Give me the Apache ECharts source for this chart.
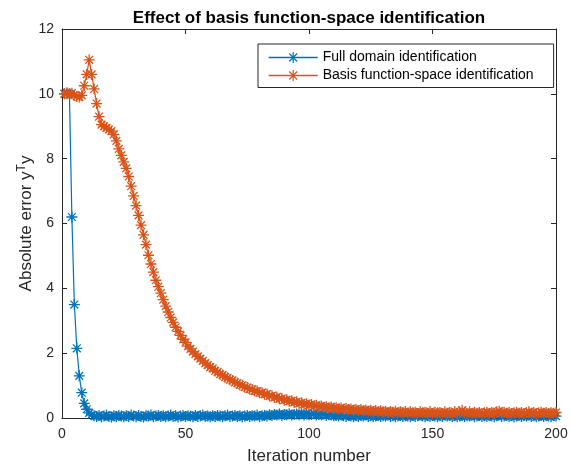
<!DOCTYPE html>
<html>
<head>
<meta charset="utf-8">
<script src="https://cdn.jsdelivr.net/npm/echarts@6/dist/echarts.min.js"></script>
<style>html,body{margin:0;padding:0;background:#fff}#c{width:572px;height:472px}</style>
</head>
<body>
<div id="c"></div>
<script>
var titleText = 'Effect of basis function-space identification';
var seriesNames = ['Full domain identification', 'Basis function-space identification'];
var xTicks = [0, 50, 100, 150, 200];
var yTicks = [0, 2, 4, 6, 8, 10, 12];

var fullDomain = [
10, 10, 10, 6.2, 3.5, 2.15, 1.3, 0.78, 0.45, 0.27,
0.16, 0.1, 0.07, 0.05, 0.08, 0.04, 0.06, 0.09, 0.05, 0.03,
0.07, 0.05, 0.08, 0.06, 0.04, 0.07, 0.05, 0.09, 0.06, 0.04,
0.08, 0.05, 0.03, 0.07, 0.06, 0.09, 0.04, 0.06, 0.08, 0.05,
0.07, 0.04, 0.06, 0.09, 0.05, 0.07, 0.03, 0.06, 0.08, 0.05,
0.07, 0.06, 0.04, 0.08, 0.05, 0.07, 0.09, 0.05, 0.06, 0.04,
0.07, 0.05, 0.08, 0.06, 0.04, 0.07, 0.09, 0.05, 0.06, 0.08,
0.05, 0.07, 0.04, 0.06, 0.08, 0.05, 0.07, 0.06, 0.09, 0.05,
0.07, 0.08, 0.06, 0.1, 0.08, 0.11, 0.09, 0.12, 0.08, 0.11,
0.1, 0.13, 0.09, 0.11, 0.12, 0.1, 0.13, 0.09, 0.12, 0.1,
0.11, 0.13, 0.09, 0.11, 0.1, 0.12, 0.08, 0.1, 0.09, 0.07,
0.08, 0.06, 0.09, 0.07, 0.05, 0.08, 0.06, 0.04, 0.07, 0.05,
0.08, 0.06, 0.09, 0.05, 0.07, 0.04, 0.06, 0.08, 0.05, 0.07,
0.06, 0.09, 0.05, 0.07, 0.04, 0.06, 0.08, 0.05, 0.07, 0.06,
0.04, 0.08, 0.05, 0.07, 0.09, 0.06, 0.04, 0.07, 0.05, 0.08,
0.06, 0.04, 0.07, 0.05, 0.09, 0.06, 0.08, 0.05, 0.07, 0.04,
0.06, 0.08, 0.05, 0.07, 0.06, 0.09, 0.04, 0.06, 0.08, 0.05,
0.07, 0.05, 0.08, 0.06, 0.04, 0.07, 0.09, 0.05, 0.06, 0.08,
0.05, 0.07, 0.04, 0.06, 0.08, 0.05, 0.07, 0.06, 0.09, 0.05,
0.07, 0.04, 0.06, 0.08, 0.05, 0.07, 0.06, 0.04, 0.08, 0.06
];

var basisSpace = [
10.0, 10.03, 9.98, 10.02, 9.96, 9.92, 9.9, 9.95, 10.25, 10.6,
11.05, 10.6, 10.15, 9.7, 9.3, 9.05, 9.0, 8.95, 8.9, 8.85,
8.75, 8.55, 8.3, 8.1, 7.9, 7.7, 7.45, 7.15, 6.85, 6.55,
6.25, 5.95, 5.65, 5.35, 5.02, 4.75, 4.5, 4.25, 4.05, 3.85,
3.65, 3.45, 3.27, 3.1, 2.95, 2.8, 2.67, 2.55, 2.43, 2.33,
2.22, 2.13, 2.05, 1.97, 1.9, 1.83, 1.76, 1.69, 1.63, 1.57,
1.53, 1.45, 1.42, 1.35, 1.33, 1.26, 1.24, 1.18, 1.16, 1.1,
1.08, 1.02, 1.01, 0.95, 0.94, 0.89, 0.88, 0.83, 0.83, 0.78,
0.78, 0.73, 0.74, 0.68, 0.69, 0.63, 0.65, 0.59, 0.6, 0.55,
0.56, 0.52, 0.53, 0.48, 0.5, 0.45, 0.47, 0.42, 0.44, 0.4,
0.42, 0.37, 0.39, 0.35, 0.37, 0.33, 0.35, 0.31, 0.34, 0.3,
0.32, 0.28, 0.31, 0.27, 0.29, 0.26, 0.28, 0.24, 0.27, 0.23,
0.26, 0.22, 0.25, 0.21, 0.24, 0.2, 0.23, 0.19, 0.22, 0.19,
0.21, 0.17, 0.2, 0.18, 0.21, 0.16, 0.19, 0.17, 0.2, 0.15,
0.19, 0.16, 0.18, 0.14, 0.19, 0.16, 0.18, 0.15, 0.2, 0.14,
0.18, 0.16, 0.17, 0.14, 0.19, 0.15, 0.17, 0.14, 0.2, 0.15,
0.18, 0.24, 0.17, 0.15, 0.19, 0.14, 0.18, 0.15, 0.17, 0.14,
0.16, 0.18, 0.14, 0.17, 0.15, 0.19, 0.21, 0.16, 0.18, 0.15,
0.17, 0.14, 0.16, 0.18, 0.15, 0.17, 0.14, 0.16, 0.19, 0.15,
0.17, 0.14, 0.16, 0.18, 0.15, 0.17, 0.14, 0.16, 0.15, 0.17
];

var C_BLUE = '#0072BD', C_ORANGE = '#D95319', AX = '#262626';
var FONT = 'Liberation Sans, Arial, sans-serif';
var STAR = 'path://M5,0L5,10M0,5L10,5M1.46,1.46L8.54,8.54M1.46,8.54L8.54,1.46';

function pairs(arr) { return arr.map(function (v, i) { return [i + 1, v]; }); }

var tickStyle = { show: true, inside: true, length: 5, lineStyle: { color: AX, width: 1 } };
var lineAx = { show: true, onZero: false, lineStyle: { color: AX, width: 1 } };

function mkSeries(name, data, color) {
  return {
    name: name, type: 'line', data: pairs(data),
    xAxisIndex: 0, yAxisIndex: 0,
    symbol: STAR, symbolSize: 11, showSymbol: true,
    lineStyle: { color: color, width: 1.2 },
    itemStyle: { color: color, borderColor: color, borderWidth: 1.3 },
    emphasis: { disabled: true }, animation: false, clip: false
  };
}

var chart = echarts.init(document.getElementById('c'), null, { renderer: 'canvas' });
chart.setOption({
  animation: false,
  backgroundColor: '#fff',
  title: {
    text: titleText, left: 304, textAlign: 'center', top: 5,
    textStyle: { fontFamily: FONT, fontSize: 17, fontWeight: 'bold', color: '#000' }
  },
  legend: {
    orient: 'vertical', left: 258, top: 44,
    data: seriesNames,
    itemWidth: 49, itemHeight: 14, itemGap: 4,
    padding: [6.5, 20, 5, 10],
    borderColor: AX, borderWidth: 1, backgroundColor: '#fff',
    itemStyle: { borderWidth: 1.2 },
    lineStyle: { width: 1.4, color: 'inherit' },
    textStyle: { fontFamily: FONT, fontSize: 14, color: '#000' }
  },
  grid: { left: 62, right: 16, top: 29, bottom: 54, containLabel: false },
  xAxis: [{
    type: 'value', min: xTicks[0], max: xTicks[xTicks.length - 1], interval: 50,
    position: 'bottom',
    name: 'Iteration number', nameLocation: 'middle', nameGap: 30,
    nameTextStyle: { fontFamily: FONT, fontSize: 17, color: AX },
    axisLine: lineAx, axisTick: tickStyle,
    axisLabel: { fontFamily: FONT, fontSize: 14, color: AX, margin: 9 },
    splitLine: { show: false }
  }, {
    type: 'value', min: xTicks[0], max: xTicks[xTicks.length - 1], interval: 50,
    position: 'top',
    axisLine: lineAx, axisTick: tickStyle, axisLabel: { show: false }, splitLine: { show: false }
  }],
  yAxis: [{
    type: 'value', min: yTicks[0], max: yTicks[yTicks.length - 1], interval: 2,
    position: 'left',
    name: '{a|Absolute error y}{s|T}{a|y}', nameLocation: 'middle', nameGap: 25,
    nameMoveOverlap: false,
    nameTextStyle: {
      fontFamily: FONT, fontSize: 17, color: AX,
      rich: {
        a: { fontFamily: FONT, fontSize: 17, color: AX },
        s: { fontFamily: FONT, fontSize: 12, color: AX, verticalAlign: 'bottom', padding: [0, 0, 9, 0] }
      }
    },
    axisLine: lineAx, axisTick: tickStyle,
    axisLabel: { fontFamily: FONT, fontSize: 14, color: AX, margin: 8 },
    splitLine: { show: false }
  }, {
    type: 'value', min: yTicks[0], max: yTicks[yTicks.length - 1], interval: 2,
    position: 'right',
    axisLine: lineAx, axisTick: tickStyle, axisLabel: { show: false }, splitLine: { show: false }
  }],
  series: [
    mkSeries(seriesNames[0], fullDomain, C_BLUE),
    mkSeries(seriesNames[1], basisSpace, C_ORANGE)
  ]
});
</script>
</body>
</html>
